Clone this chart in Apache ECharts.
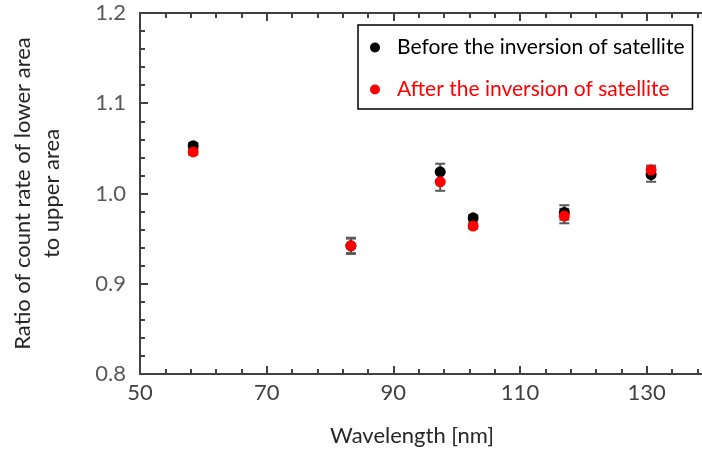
<!DOCTYPE html>
<html>
<head>
<meta charset="utf-8">
<script src="https://cdn.jsdelivr.net/npm/echarts@6/dist/echarts.min.js"></script>
<style>
  html, body { margin: 0; padding: 0; background: #fff; }
  #chart { width: 702px; height: 454px; }
</style>
</head>
<body>
<div id="chart"></div>
<script>
// Count-rate ratio (lower / upper area) per wavelength, before and after the satellite inversion
const wavelengths = [58.4, 83.3, 97.4, 102.6, 117.0, 130.7];
const ratioBefore = [1.053, 0.942, 1.024, 0.973, 0.979, 1.021];
const errBefore   = [0.003, 0.008, 0.009, 0.003, 0.008, 0.008];
const ratioAfter  = [1.046, 0.942, 1.013, 0.964, 0.975, 1.026];
const errAfter    = [0.003, 0.009, 0.010, 0.003, 0.008, 0.005];

const nameBefore = 'Before the inversion of satellite';
const nameAfter  = 'After the inversion of satellite';

const FONT = 'Lato';
const AXIS_COLOR = '#404040';

const pointsBefore = wavelengths.map((w, i) => [w, ratioBefore[i]]);
const pointsAfter  = wavelengths.map((w, i) => [w, ratioAfter[i]]);
const barsBefore   = wavelengths.map((w, i) => [w, ratioBefore[i], errBefore[i]]);
const barsAfter    = wavelengths.map((w, i) => [w, ratioAfter[i], errAfter[i]]);

// vertical error bar with short caps
function renderErrorBar(params, api) {
  const x = api.value(0), y = api.value(1), e = api.value(2);
  const top = api.coord([x, y + e]);
  const bot = api.coord([x, y - e]);
  const half = 5;
  const style = { stroke: '#595959', lineWidth: 2 };
  return {
    type: 'group',
    children: [
      { type: 'line', shape: { x1: top[0], y1: top[1], x2: bot[0], y2: bot[1] }, style },
      { type: 'line', shape: { x1: top[0] - half, y1: top[1], x2: top[0] + half, y2: top[1] }, style },
      { type: 'line', shape: { x1: bot[0] - half, y1: bot[1], x2: bot[0] + half, y2: bot[1] }, style }
    ]
  };
}

const chart = echarts.init(document.getElementById('chart'), null, { renderer: 'canvas' });

const xCommon = {
  type: 'value', min: 50, max: 140, interval: 20,
  axisLine: { show: true, onZero: false, lineStyle: { color: AXIS_COLOR, width: 2 } },
  axisTick: { show: true, inside: true, length: 8, lineStyle: { color: AXIS_COLOR, width: 2 } },
  minorTick: { show: true, splitNumber: 5, length: 5, lineStyle: { color: AXIS_COLOR, width: 2 } },
  splitLine: { show: false },
  minorSplitLine: { show: false }
};

chart.setOption({
  animation: false,
  textStyle: { fontFamily: FONT },
  // the plot area runs a little past the right edge of the canvas
  grid: { left: 140, top: 13, width: 570, bottom: 80, containLabel: false, outerBoundsMode: 'none' },
  legend: {
    orient: 'vertical',
    left: 358, top: 25,
    backgroundColor: '#fff',
    borderColor: '#000', borderWidth: 1.5,
    padding: [12, 8, 9, 12],
    itemGap: 21,
    itemWidth: 10, itemHeight: 10,
    icon: 'circle',
    textStyle: { fontFamily: FONT, fontSize: 21, lineHeight: 20, padding: [0, 0, 0, 12] },
    data: [
      { name: nameBefore, textStyle: { color: '#000' } },
      { name: nameAfter, textStyle: { color: '#ff0000' } }
    ]
  },
  xAxis: [
    Object.assign({}, xCommon, {
      position: 'bottom',
      name: 'Wavelength [nm]',
      nameLocation: 'middle',
      nameGap: 51,
      nameTextStyle: { fontFamily: FONT, fontSize: 22, color: '#262626', padding: [0, 26, 0, 0] },
      axisLabel: {
        show: true, margin: 8, fontFamily: FONT, fontSize: 22, color: '#404040',
        showMaxLabel: false
      }
    }),
    Object.assign({}, xCommon, {
      position: 'top',
      axisLabel: { show: false }
    })
  ],
  yAxis: {
    type: 'value', min: 0.8, max: 1.2, interval: 0.1,
    name: 'Ratio of count rate of lower area\nto upper area',
    nameLocation: 'middle',
    nameRotate: 90,
    nameGap: 74,
    nameTextStyle: { fontFamily: FONT, fontSize: 22, color: '#262626', lineHeight: 29, align: 'center' },
    axisLine: { show: true, onZero: false, lineStyle: { color: AXIS_COLOR, width: 2 } },
    axisTick: { show: true, inside: true, length: 8, lineStyle: { color: AXIS_COLOR, width: 2 } },
    minorTick: { show: true, splitNumber: 5, length: 5, lineStyle: { color: AXIS_COLOR, width: 2 } },
    splitLine: { show: false },
    axisLabel: {
      margin: 14, fontFamily: FONT, fontSize: 22, color: '#595959',
      formatter: v => v.toFixed(1)
    }
  },
  series: [
    {
      name: 'errBefore', type: 'custom', renderItem: renderErrorBar,
      data: barsBefore, z: 2, silent: true
    },
    {
      name: 'errAfter', type: 'custom', renderItem: renderErrorBar,
      data: barsAfter, z: 2, silent: true
    },
    {
      name: nameBefore, type: 'scatter', data: pointsBefore,
      symbol: 'circle', symbolSize: 11,
      itemStyle: { color: '#000', opacity: 1 }, z: 3
    },
    {
      name: nameAfter, type: 'scatter', data: pointsAfter,
      symbol: 'circle', symbolSize: 11,
      itemStyle: { color: '#ff0000', opacity: 1 }, z: 4
    }
  ]
});
</script>
</body>
</html>
